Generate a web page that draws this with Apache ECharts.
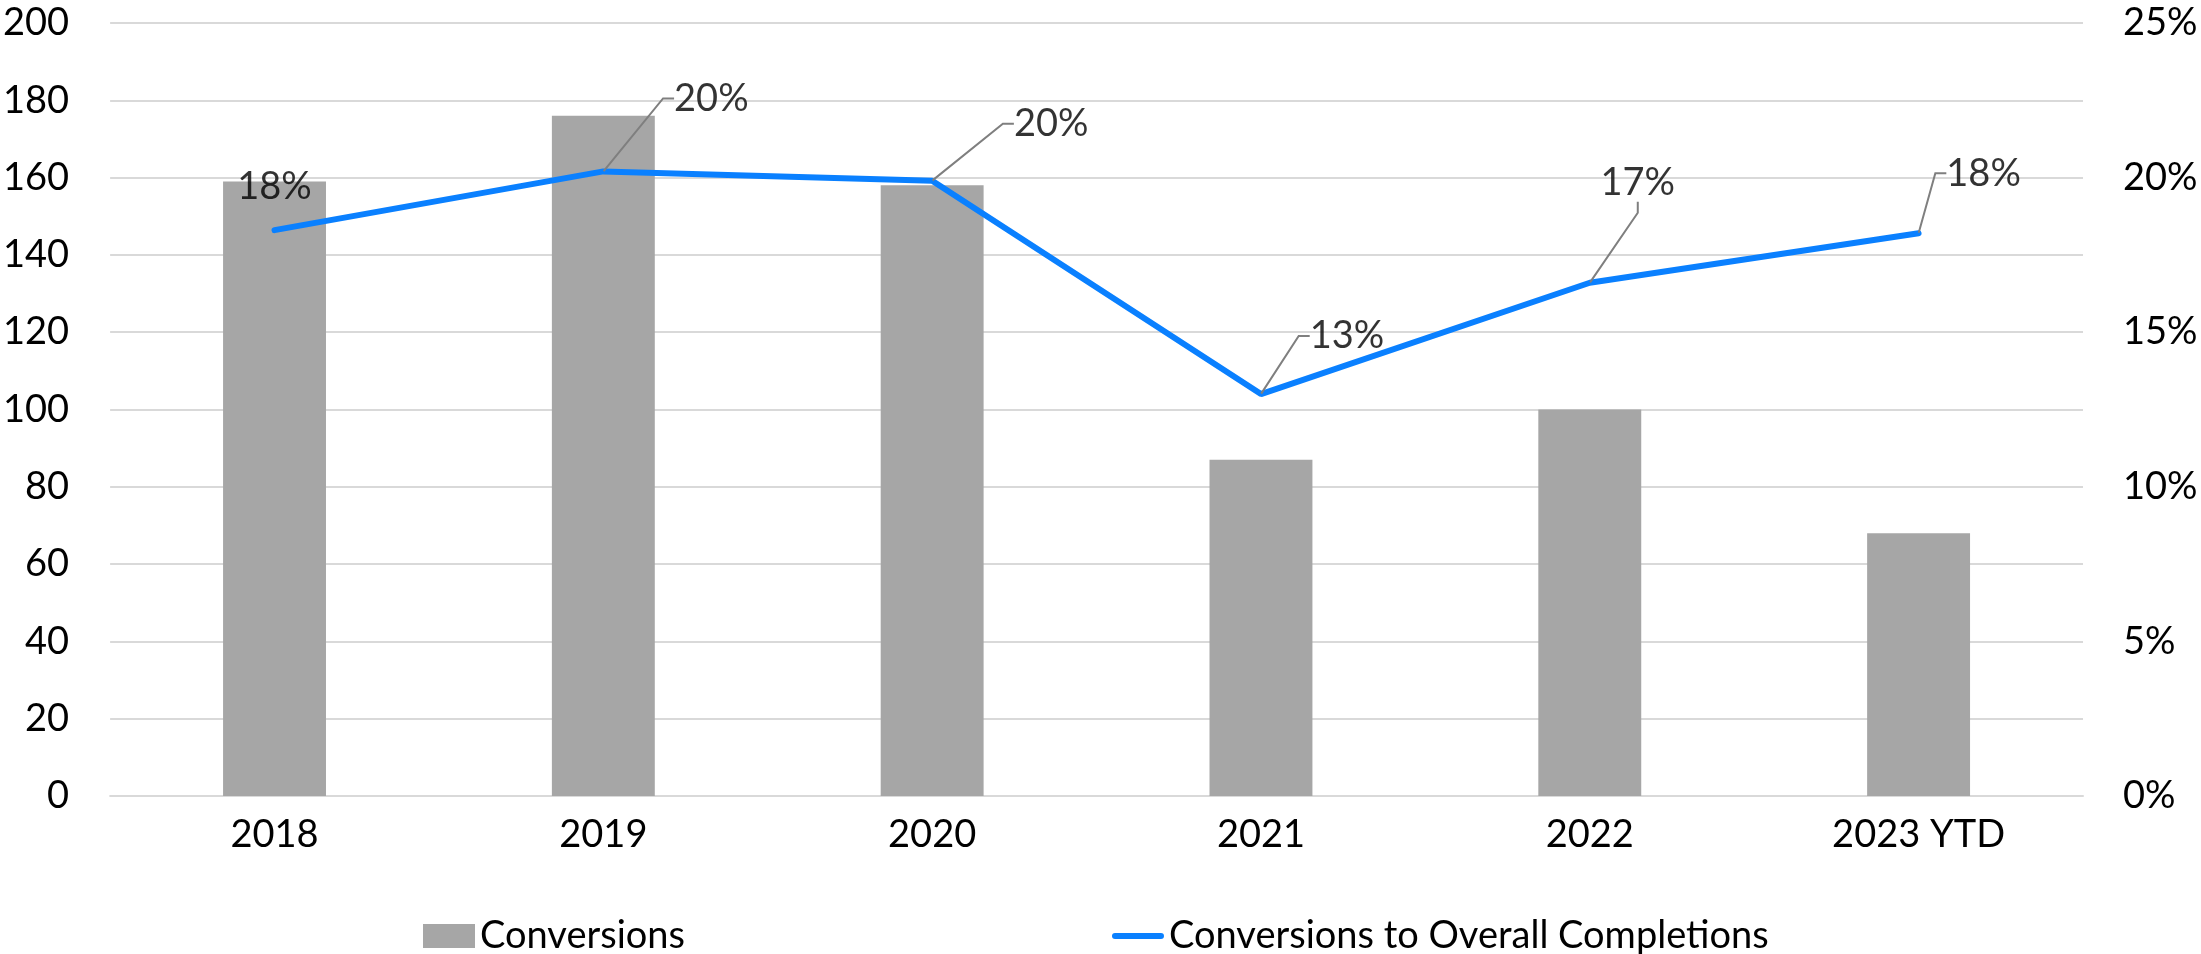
<!DOCTYPE html>
<html>
<head>
<meta charset="utf-8">
<script src="https://cdn.jsdelivr.net/npm/echarts@6/dist/echarts.min.js"></script>
<style>
  html, body { margin: 0; padding: 0; background: #fff; }
  #chart { width: 2201px; height: 954px; }
</style>
</head>
<body>
<div id="chart"></div>
<script>
// data
const years = ['2018', '2019', '2020', '2021', '2022', '2023 YTD'];
const conversions = [159, 176, 158, 87, 100, 68];
const conversionRate = [0.183, 0.202, 0.199, 0.130, 0.166, 0.182];
const leftTicks = { min: 0, max: 200, step: 20 };
const rightTicks = { min: 0, max: 0.25, step: 0.05 };

// where each % label sits relative to its point (dx, dy), like the excel callouts
const labelShift = [[0, -43], [108, -73], [119, -57], [86, -58], [48, -100], [65, -60]];

const font = 'Lato, "Noto Sans", sans-serif';
const barColor = '#a6a6a6';
const lineColor = '#0a80ff';

var chart = echarts.init(document.getElementById('chart'));
var option = {
  animation: false,
  textStyle: { fontFamily: font },
  grid: { left: 108, right: 118, top: 23, bottom: 158 },
  legend: {
    left: 418,
    top: 912,
    itemWidth: 52,
    itemHeight: 24,
    itemGap: 427,
    symbolKeepAspect: true,
    textStyle: { fontSize: 38, color: '#000', fontFamily: font },
    data: [
      { name: 'Conversions', icon: 'rect' },
      {
        name: 'Conversions to Overall Completions',
        // flat rounded bar instead of the default line+dot icon
        icon: 'path://M3,0 L49,0 A3,3 0 0 1 49,6 L3,6 A3,3 0 0 1 3,0 Z',
        itemStyle: { color: lineColor }
      }
    ]
  },
  xAxis: {
    type: 'category',
    data: years,
    axisLine: { lineStyle: { color: '#d9d9d9', width: 2 } },
    axisTick: { show: false },
    axisLabel: { fontSize: 38, color: '#000', margin: 20, fontFamily: font }
  },
  yAxis: [
    {
      type: 'value',
      min: leftTicks.min,
      max: leftTicks.max,
      interval: leftTicks.step,
      axisLine: { show: false },
      axisTick: { show: false },
      axisLabel: { fontSize: 38, color: '#000', margin: 41, fontFamily: font },
      splitLine: { lineStyle: { color: '#d9d9d9', width: 2 } }
    },
    {
      type: 'value',
      min: rightTicks.min,
      max: rightTicks.max,
      interval: rightTicks.step,
      axisLine: { show: false },
      axisTick: { show: false },
      splitLine: { show: false },
      axisLabel: {
        fontSize: 38, color: '#000', margin: 40, fontFamily: font,
        formatter: v => Math.round(v * 100) + '%'
      }
    }
  ],
  series: [
    {
      name: 'Conversions',
      type: 'bar',
      data: conversions,
      barWidth: '31.3%',
      itemStyle: { color: barColor }
    },
    {
      name: 'Conversions to Overall Completions',
      type: 'line',
      yAxisIndex: 1,
      data: conversionRate,
      symbol: 'none',
      lineStyle: { color: lineColor, width: 6, cap: 'round' },
      itemStyle: { color: lineColor },
      z: 3
    },
    {
      // invisible points that only carry the % callouts and their leader lines
      name: 'rateLabels',
      type: 'scatter',
      yAxisIndex: 1,
      symbolSize: 1,
      itemStyle: { color: 'rgba(0,0,0,0)' },
      data: conversionRate.map((v, i) => i === 0 ? { value: v, labelLine: { show: false } } : v),
      label: {
        show: true,
        position: 'inside',
        color: '#000',
        fontSize: 38,
        fontFamily: font,
        padding: [2, 10],
        formatter: p => Math.round(p.value * 100) + '%'
      },
      labelLine: {
        show: true,
        length2: 11,
        lineStyle: { color: '#7f7f7f', width: 2 }
      },
      labelLayout: function (p) {
        return { dx: labelShift[p.dataIndex][0], dy: labelShift[p.dataIndex][1] };
      },
      z: 4
    }
  ]
};
chart.setOption(option);
</script>
</body>
</html>
